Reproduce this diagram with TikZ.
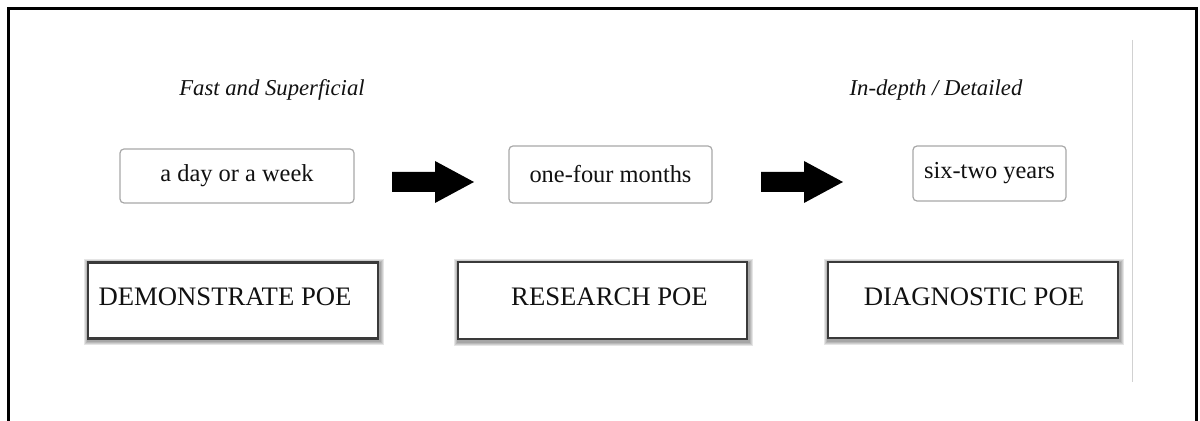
\documentclass[tikz,border=0pt]{standalone}
\usepackage{fontspec}
\setmainfont{Liberation Serif}
\usetikzlibrary{backgrounds,calc}
\definecolor{ink}{HTML}{111111}
\definecolor{smallborder}{HTML}{A8A8A8}
\definecolor{bigborder}{HTML}{3A3A3A}
\begin{document}
\begin{tikzpicture}[x=0.5pt,y=-0.5pt,
  smallbox/.style={draw=smallborder, line width=0.6pt, rounded corners=2pt, fill=white, inner sep=0pt, text=ink, font=\fontsize{12.2}{14}\selectfont},
  bigbox/.style={draw=bigborder, line width=1.1pt, fill=white, inner sep=0pt},
  glow/.style={fill=black, fill opacity=0.1},
  bigtext/.style={text=ink, inner sep=0pt, font=\fontsize{13.35}{15}\selectfont},
  headtext/.style={text=ink, inner sep=0pt, anchor=base, font=\fontsize{11.35}{13}\selectfont\itshape},
  blockarrow/.style={fill=black}
]
\useasboundingbox (0,0) rectangle (1200,421);
% frame
\draw[line width=1.5pt, black] (8,430) -- (8,8.5) -- (1196.5,8.5) -- (1196.5,430);
% thin gray divider
\draw[line width=0.5pt, black!18] (1132,40) -- (1132,382);

% headings
\node[headtext] (fast) at (272,96) {Fast and Superficial};
\node[headtext] (deep) at (936,96) {In-depth / Detailed};

% time boxes
\node[smallbox, minimum width=117pt, minimum height=27pt] (t1) at (237,176) {a day or a week};
\node[smallbox, minimum width=101.5pt, minimum height=28.5pt] (t2) at (610.5,174.5) {one-four months};
\node[smallbox, minimum width=76.5pt, minimum height=27.5pt] (t3) at (989.5,173.5) {six-two years};

% block arrows
\fill[blockarrow] (392,172) -- (435,172) -- (435,161) -- (474,182) -- (435,203) -- (435,192) -- (392,192) -- cycle;
\fill[blockarrow] (761,172) -- (804,172) -- (804,161) -- (843,182) -- (804,203) -- (804,192) -- (761,192) -- cycle;

% POE boxes
\node[bigbox, minimum width=145pt, minimum height=38pt] (bA) at (233,300.5) {};
\node[bigbox, minimum width=144.5pt, minimum height=38.5pt] (bB) at (602.5,300.5) {};
\node[bigbox, minimum width=145pt, minimum height=38pt] (bC) at (973,300) {};
\begin{scope}[on background layer]
  \foreach \b in {bA,bB,bC}{
    \foreach \e in {1,2,3,4}{
      \fill[glow] ($(\b.north west)+(-\e+1,-\e+2)$) rectangle ($(\b.south east)+(\e+0.5,\e+1.5)$);
    }
  }
\end{scope}
\node[bigtext] (tA) at (225,297) {DEMONSTRATE POE};
\node[bigtext] (tB) at (609.5,297) {RESEARCH POE};
\node[bigtext] (tC) at (974,297) {DIAGNOSTIC POE};
\end{tikzpicture}
\end{document}
